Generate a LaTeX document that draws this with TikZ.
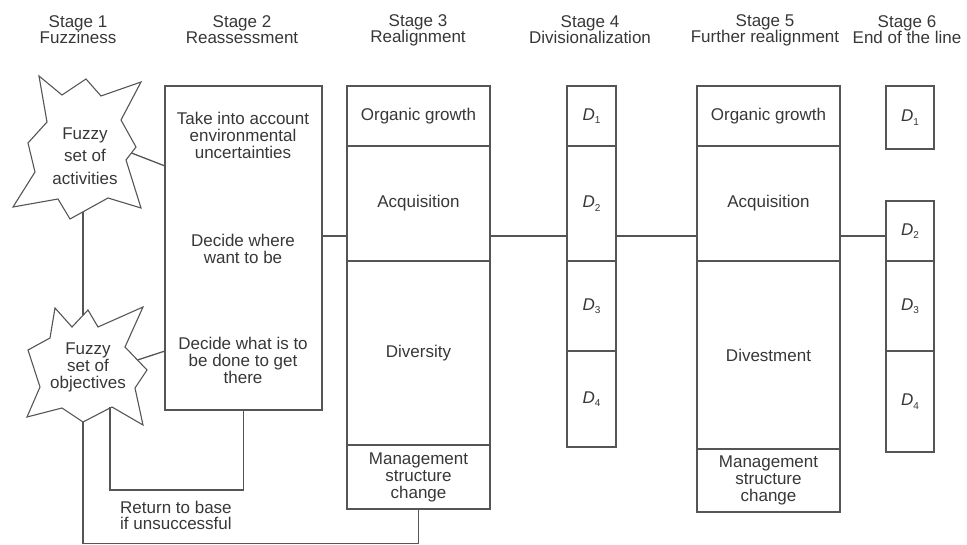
\documentclass[tikz,border=0pt]{standalone}
\usepackage{fontspec}
\setmainfont{Liberation Sans}
\usetikzlibrary{calc}
\definecolor{linec}{RGB}{85,85,85}
\definecolor{textc}{RGB}{55,55,55}
\newcommand\Dsub[1]{\raisebox{-4pt}{\textit{D}\raisebox{-3.5pt}{\fontsize{10}{10}\selectfont #1}}}
\newcommand\mkcell[6]{\node[cell, minimum width={(#4)-(#2)}, minimum height={(#5)-(#3)}] (#1) at ({((#2)+(#4))/2},{((#3)+(#5))/2}) {#6};}
\begin{document}
\begin{tikzpicture}[x=1pt,y=-1pt,
  txt/.style={text=textc, font=\fontsize{17}{17}\selectfont, align=center, inner sep=0pt},
  head/.style={text=textc, font=\fontsize{17}{16}\selectfont, align=center, inner sep=0pt},
  cell/.style={draw=linec, line width=1.3pt, inner sep=0pt, outer sep=0pt, align=center, text=textc, font=\fontsize{17}{17}\selectfont},
  ln/.style={draw=linec, line width=1.3pt},
  starln/.style={draw=linec, line width=1.1pt, line join=miter}]
\useasboundingbox (0,0) rectangle (967,545);

% headers
\node[head] (h1) at (78,30) {Stage 1\\Fuzziness};
\node[head] (h2) at (242,30) {Stage 2\\Reassessment};
\node[head] (h3) at (418,30) {Stage 3\\Realignment};
\node[head] (h4) at (590,30) {Stage 4\\Divisionalization};
\node[head] (h5) at (765,30) {Stage 5\\Further realignment};
\node[head] (h6) at (907,30) {Stage 6\\End of the line};

% stars
\draw[starln] (39,76) -- (62,95) -- (86,79) -- (101,96) -- (141,82) -- (121,120) -- (136,147) -- (126,160) -- (141,208) -- (108,198) -- (70,219) -- (58,199) -- (13,207) -- (35,172) -- (28,143) -- (47,122) -- cycle;
\node[txt, font=\fontsize{17}{22.5}\selectfont] (f1) at (85,156) {Fuzzy\\set of\\activities};
\draw[starln] (55,308) -- (72,327) -- (88,310) -- (98,327) -- (143,307) -- (125,347) -- (147,370) -- (135,388) -- (143,425) -- (112,407) -- (83,422) -- (62,408) -- (27,417) -- (40,387) -- (28,350) -- (50,338) -- cycle;
\node[txt] (f2) at (88,367) {Fuzzy\\set of\\objectives};

% stage 2
\mkcell{s2}{165}{86}{322}{410}{}
\node[txt] (t1) at (243,135.5) {Take into account\\environmental\\uncertainties};
\node[txt] (t2) at (243,249) {Decide where\\want to be};
\node[txt] (t3) at (243,360) {Decide what is to\\be done to get\\there};

% stage 3
\mkcell{s3a}{347}{86}{490}{146}{Organic growth}
\mkcell{s3b}{347}{146}{490}{261}{\raisebox{-2pt}{Acquisition}}
\mkcell{s3c}{347}{261}{490}{445}{\raisebox{-6pt}{Diversity}}
\mkcell{s3d}{347}{445}{490}{509}{Management\\structure\\change}

% stage 4
\mkcell{s4a}{567}{86}{616}{146}{\Dsub{1}}
\mkcell{s4b}{567}{146}{616}{261}{\Dsub{2}}
\mkcell{s4c}{567}{261}{616}{351}{\Dsub{3}}
\mkcell{s4d}{567}{351}{616}{447}{\Dsub{4}}

% stage 5
\mkcell{s5a}{697}{86}{840}{146}{Organic growth}
\mkcell{s5b}{697}{146}{840}{261}{\raisebox{-2pt}{Acquisition}}
\mkcell{s5c}{697}{261}{840}{449}{\raisebox{-2pt}{Divestment}}
\mkcell{s5d}{697}{449}{840}{512}{Management\\structure\\change}

% stage 6
\mkcell{s6a}{886}{86}{934}{149}{\Dsub{1}}
\mkcell{s6b}{886}{201}{934}{261}{\Dsub{2}}
\mkcell{s6c}{886}{261}{934}{351}{\Dsub{3}}
\mkcell{s6d}{886}{351}{934}{452}{\Dsub{4}}

% connectors
\coordinate (j) at (0,236);
\draw[ln] (s2.east |- j) -- (s3b.west |- j);
\draw[ln] (s3b.east |- j) -- (s4b.west |- j);
\draw[ln] (s4b.east |- j) -- (s5b.west |- j);
\draw[ln] (s5b.east |- j) -- (s6b.west |- j);

\coordinate (a1) at (131.5,153);
\draw[ln] (a1) -- (s2.west |- 0,166);
\coordinate (a2) at (137.5,360);
\draw[ln] (a2) -- (s2.west |- 0,351);

\coordinate (st1bot) at (83,212);
\coordinate (st2top) at (83,315);
\draw[ln] (st1bot) -- (st2top);

\coordinate (rb) at (110,490);
\coordinate (st2in) at (110,407);
\draw[ln] (s2.south) |- (rb) -- (st2in);
\node[txt, anchor=west, align=left, font=\fontsize{17}{16}\selectfont] (ret) at (120,515) {Return to base\\if unsuccessful};

\coordinate (st2bot) at (83,422);
\coordinate (bl) at (83,543.5);
\draw[ln] (st2bot) -- (bl) -| (s3d.south);
\end{tikzpicture}
\end{document}
